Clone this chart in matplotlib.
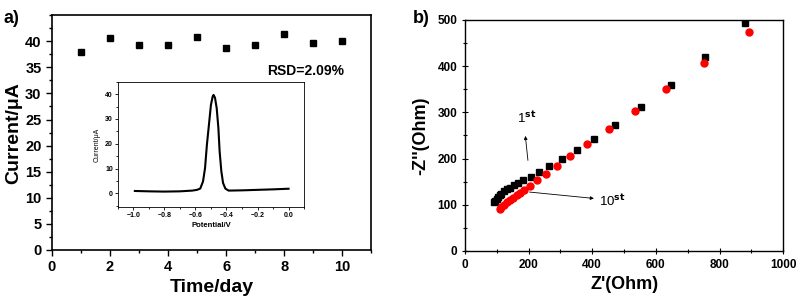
import matplotlib
matplotlib.use("Agg")
import matplotlib.pyplot as plt
from matplotlib.ticker import MultipleLocator

plt.rcParams['font.family'] = ['Liberation Sans', 'DejaVu Sans']
plt.rcParams['font.weight'] = 'bold'

# panel a: stability over 10 days
days = [1, 2, 3, 4, 5, 6, 7, 8, 9, 10]
current = [38.0, 40.6, 39.3, 39.2, 40.9, 38.7, 39.3, 41.3, 39.6, 40.1]

# inset: DPV peak
pot = [-0.99, -0.90, -0.80, -0.70, -0.62, -0.59, -0.569, -0.551, -0.538, -0.526,
       -0.513, -0.500, -0.489, -0.483, -0.474, -0.463, -0.452, -0.444, -0.433,
       -0.422, -0.407, -0.386, -0.30, -0.20, -0.10, 0.0]
cur_inset = [0.95, 0.8, 0.7, 0.8, 1.1, 1.4, 1.9, 4.8, 10.2, 19.6,
             27.6, 35.7, 39.0, 39.7, 38.6, 34.4, 26.3, 16.9, 8.9,
             4.2, 1.9, 1.1, 1.2, 1.4, 1.6, 1.85]

# panel b: Nyquist plots, 1st (black squares) and 10th (red circles)
z1_re = [91, 95, 100, 104, 109, 115, 123, 131, 142, 154, 168, 184, 207, 232, 264,
         304, 352, 406, 473, 553, 646, 755, 879]
z1_im = [106, 109, 112, 116, 120, 124, 129, 133, 137, 142, 147, 153, 160, 171, 184,
         200, 219, 243, 273, 312, 359, 419, 494]
z10_re = [110, 115, 122, 131, 142, 152, 163, 173, 187, 204, 226, 254, 288, 331,
          384, 452, 533, 632, 750, 892]
z10_im = [91, 95, 100, 105, 110, 115, 120, 125, 131, 141, 153, 167, 183, 206,
          232, 263, 303, 351, 407, 474]

fig = plt.figure(figsize=(7.96, 3.03), dpi=100)

ax1 = fig.add_axes([0.0653, 0.175, 0.401, 0.775])
ax1.plot(days, current, 's', color='black', markersize=4.5)
ax1.set_xlim(0, 11)
ax1.set_ylim(0, 45)
ax1.xaxis.set_major_locator(MultipleLocator(2))
ax1.xaxis.set_minor_locator(MultipleLocator(1))
ax1.yaxis.set_minor_locator(MultipleLocator(2.5))
ax1.set_yticks([0, 5, 10, 15, 20, 25, 30, 35, 40])
ax1.tick_params(which='major', direction='out', length=4, width=1, labelsize=10.5)
ax1.tick_params(which='minor', direction='out', length=2.5, width=1)
ax1.set_xlabel("Time/day", fontsize=14, fontweight='bold', labelpad=3)
ax1.set_ylabel("Current/\u03bcA", fontsize=14, fontweight='bold', labelpad=2)
ax1.text(7.4, 33.6, "RSD=2.09%", fontsize=10, fontweight='bold')
for s in ax1.spines.values():
    s.set_linewidth(1.2)
fig.text(0.004, 0.925, "a)", fontsize=13, fontweight='bold')

# inset
axi = fig.add_axes([0.148, 0.317, 0.234, 0.413])
axi.plot(pot, cur_inset, color='black', linewidth=1.5)
axi.set_xlim(-1.1, 0.1)
axi.set_ylim(-5.5, 45)
axi.xaxis.set_minor_locator(MultipleLocator(0.1))
axi.yaxis.set_minor_locator(MultipleLocator(5))
axi.set_xticks([-1.0, -0.8, -0.6, -0.4, -0.2, 0.0])
axi.set_yticks([0, 10, 20, 30, 40])
axi.tick_params(which='major', direction='out', length=2, width=0.6, labelsize=5, pad=1.5)
axi.tick_params(which='minor', direction='out', length=1.2, width=0.6)
axi.set_xlabel("Potential/V", fontsize=5.5, fontweight='bold', labelpad=2)
axi.set_ylabel("Current/\u03bcA", fontsize=5, fontweight='normal', labelpad=3)
for s in axi.spines.values():
    s.set_linewidth(0.6)

# panel b
ax2 = fig.add_axes([0.584, 0.172, 0.400, 0.762])
ax2.plot(z1_re, z1_im, 's', color='black', markersize=5)
ax2.plot(z10_re, z10_im, 'o', color='red', markersize=5)
ax2.set_xlim(0, 1000)
ax2.set_ylim(0, 500)
ax2.xaxis.set_major_locator(MultipleLocator(200))
ax2.xaxis.set_minor_locator(MultipleLocator(100))
ax2.yaxis.set_major_locator(MultipleLocator(100))
ax2.yaxis.set_minor_locator(MultipleLocator(50))
ax2.tick_params(which='major', direction='inout', length=4, width=0.8, labelsize=8.5)
ax2.tick_params(which='minor', direction='inout', length=2.5, width=0.8)
ax2.set_xlabel("Z'(Ohm)", fontsize=13, fontweight='bold', labelpad=4)
ax2.set_ylabel("-Z''(Ohm)", fontsize=13, fontweight='bold', labelpad=6)
for s in ax2.spines.values():
    s.set_linewidth(1.0)

ax2.annotate("", xy=(189, 255), xytext=(199, 190),
             arrowprops=dict(arrowstyle='-|>', color='black', lw=0.6,
                             mutation_scale=5))
ax2.annotate("", xy=(414, 113), xytext=(194, 128),
             arrowprops=dict(arrowstyle='-|>', color='black', lw=0.6,
                             mutation_scale=5))
ax2.text(165, 278, "1$^{\\mathbf{st}}$", fontsize=9.5, fontweight='normal')
ax2.text(422, 98, "10$^{\\mathbf{st}}$", fontsize=9.5, fontweight='normal')
fig.text(0.518, 0.925, "b)", fontsize=13, fontweight='bold')

fig.savefig("out.png", dpi=100)
